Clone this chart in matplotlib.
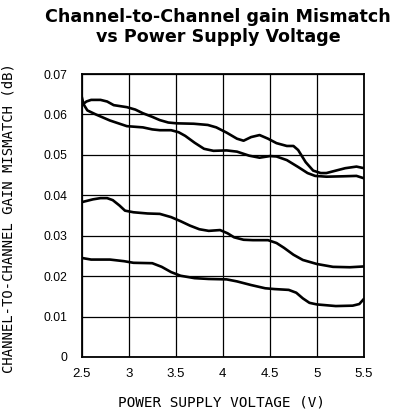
import matplotlib
matplotlib.use("Agg")
import matplotlib.pyplot as plt

# Supply voltage (V) and channel-to-channel gain mismatch (dB) for four parts
x_a = [2.50, 2.55, 2.60, 2.70, 2.77, 2.84, 2.98, 3.07, 3.15, 3.25, 3.33, 3.42,
       3.51, 3.69, 3.84, 3.93, 4.04, 4.15, 4.22, 4.30, 4.39, 4.48, 4.57, 4.68,
       4.75, 4.80, 4.88, 4.96, 5.04, 5.10, 5.20, 5.30, 5.42, 5.50]
y_a = [0.0623, 0.0632, 0.0636, 0.0636, 0.0632, 0.0623, 0.0618, 0.0612, 0.0603,
       0.0594, 0.0586, 0.0580, 0.0578, 0.0577, 0.0574, 0.0568, 0.0555, 0.0540,
       0.0535, 0.0544, 0.0549, 0.0540, 0.0529, 0.0522, 0.0522, 0.0512, 0.0482,
       0.0461, 0.0455, 0.0455, 0.0461, 0.0467, 0.0471, 0.0467]

x_b = [2.50, 2.52, 2.56, 2.65, 2.80, 2.98, 3.15, 3.25, 3.33, 3.45, 3.53, 3.60,
       3.70, 3.80, 3.90, 4.04, 4.15, 4.28, 4.39, 4.50, 4.57, 4.68, 4.80, 4.90,
       4.98, 5.10, 5.28, 5.42, 5.50]
y_b = [0.0644, 0.0625, 0.0610, 0.0600, 0.0585, 0.0571, 0.0568, 0.0563, 0.0561,
       0.0561, 0.0556, 0.0547, 0.0530, 0.0515, 0.0510, 0.0511, 0.0508, 0.0498,
       0.0493, 0.0497, 0.0496, 0.0487, 0.0470, 0.0455, 0.0448, 0.0446, 0.0447,
       0.0448, 0.0442]

x_c = [2.50, 2.62, 2.70, 2.77, 2.83, 2.90, 2.96, 3.05, 3.20, 3.33, 3.45, 3.55,
       3.65, 3.75, 3.85, 3.97, 4.05, 4.12, 4.22, 4.32, 4.48, 4.57, 4.65, 4.75,
       4.85, 5.00, 5.17, 5.35, 5.50]
y_c = [0.0383, 0.0390, 0.0393, 0.0393, 0.0388, 0.0375, 0.0362, 0.0358, 0.0355,
       0.0354, 0.0346, 0.0336, 0.0325, 0.0316, 0.0312, 0.0314, 0.0306, 0.0296,
       0.0290, 0.0289, 0.0289, 0.0282, 0.0270, 0.0253, 0.0240, 0.0230, 0.0223,
       0.0222, 0.0224]

x_d = [2.50, 2.60, 2.80, 2.95, 3.05, 3.25, 3.35, 3.45, 3.55, 3.70, 3.85, 4.04,
       4.15, 4.30, 4.45, 4.55, 4.70, 4.78, 4.85, 4.92, 5.00, 5.20, 5.38, 5.45,
       5.50]
y_d = [0.0245, 0.0241, 0.0241, 0.0237, 0.0233, 0.0232, 0.0223, 0.0210, 0.0201,
       0.0195, 0.0193, 0.0192, 0.0187, 0.0178, 0.0170, 0.0168, 0.0166, 0.0159,
       0.0145, 0.0134, 0.0130, 0.0126, 0.0127, 0.0131, 0.0144]

x_ticks = [2.5, 3, 3.5, 4, 4.5, 5, 5.5]
x_tick_labels = ["2.5", "3", "3.5", "4", "4.5", "5", "5.5"]
y_ticks = [0, 0.01, 0.02, 0.03, 0.04, 0.05, 0.06, 0.07]
y_tick_labels = ["0", "0.01", "0.02", "0.03", "0.04", "0.05", "0.06", "0.07"]

title_lines = ["Channel-to-Channel gain Mismatch", "vs Power Supply Voltage"]
x_label = "POWER SUPPLY VOLTAGE (V)"
y_label = "CHANNEL-TO-CHANNEL GAIN MISMATCH (dB)"

fig = plt.figure(figsize=(3.99, 4.17), dpi=100)
ax = fig.add_axes([0.2048, 0.1439, 0.7075, 0.6786])

for xs, ys in [(x_a, y_a), (x_b, y_b), (x_c, y_c), (x_d, y_d)]:
    ax.plot(xs, ys, color="black", lw=1.9, solid_joinstyle="round",
            solid_capstyle="round", zorder=3)

ax.set_xlim(2.5, 5.5)
ax.set_ylim(0, 0.07)
ax.set_xticks(x_ticks)
ax.set_xticklabels(x_tick_labels, family="Liberation Sans", fontsize=9.5)
ax.set_yticks(y_ticks)
ax.set_yticklabels(y_tick_labels, family="Liberation Sans", fontsize=8.8)
ax.tick_params(axis="y", length=0, pad=10.5)
ax.tick_params(axis="x", length=0, pad=8)
ax.grid(True, color="black", lw=0.9)
for s in ax.spines.values():
    s.set_linewidth(1.3)

fig.text(222 / 399, 1 - 403 / 417, x_label, family="DejaVu Sans Mono",
         fontsize=10.4, ha="center", va="center")
fig.text(9 / 399, 1 - 218 / 417, y_label, family="DejaVu Sans Mono", fontsize=10.0,
         ha="center", va="center", rotation=90)

fig.text(218 / 399, 1 - 22.5 / 417, title_lines[0], ha="center", va="baseline",
         family="DejaVu Sans", fontweight="bold", fontsize=12.6)
fig.text(218 / 399, 1 - 42.5 / 417, title_lines[1], ha="center", va="baseline",
         family="DejaVu Sans", fontweight="bold", fontsize=12.6)

fig.savefig("out.png", dpi=100)
